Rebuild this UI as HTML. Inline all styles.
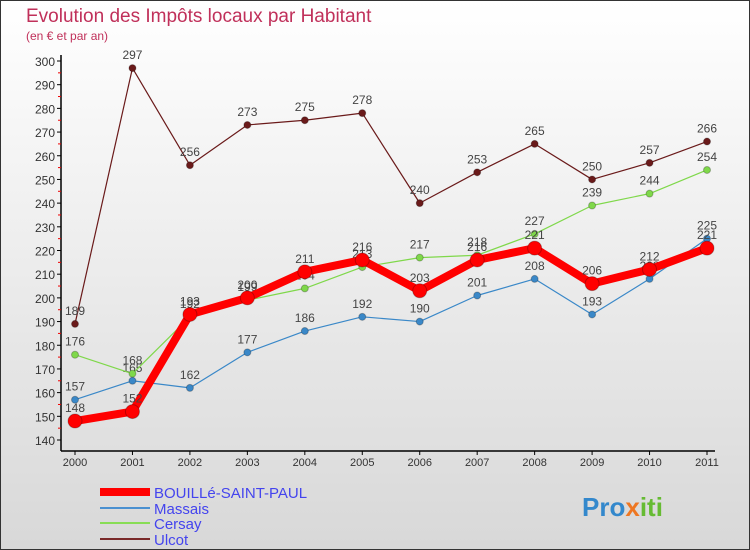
<!DOCTYPE html>
<html><head><meta charset="utf-8"><style>
body{margin:0;}
#c{width:748px;height:548px;border:1px solid #333;background:linear-gradient(#fff,#d8d8d8);position:relative;overflow:hidden;font-family:"Liberation Sans",sans-serif;}
</style></head><body>
<div id="c">
<svg id="s" width="748" height="548" viewBox="1 1 748 548" xmlns="http://www.w3.org/2000/svg" style="position:absolute;left:0;top:0">
<text x="26" y="22" font-size="19" fill="#c0305a">Evolution des Impôts locaux par Habitant</text>
<text x="26" y="40" font-size="12" fill="#c0305a">(en € et par an)</text>
<g id="axes"></g><g id="series"></g>
<g>
<line x1="100" y1="492" x2="150" y2="492" stroke="#f00" stroke-width="8"/><text x="154" y="498" font-size="15" fill="#4444ee">BOUILLé-SAINT-PAUL</text>
<line x1="100" y1="508" x2="150" y2="508" stroke="#4a90d0" stroke-width="2"/><text x="154" y="514" font-size="15" fill="#4444ee">Massais</text>
<line x1="100" y1="523" x2="150" y2="523" stroke="#88dd55" stroke-width="2"/><text x="154" y="529" font-size="15" fill="#4444ee">Cersay</text>
<line x1="100" y1="539" x2="150" y2="539" stroke="#7a2a2a" stroke-width="2"/><text x="154" y="545" font-size="15" fill="#4444ee">Ulcot</text>
</g>
<text x="582" y="516" font-size="26" font-weight="bold" fill="#3388cc">Pro<tspan fill="#ee7722">x</tspan><tspan fill="#66bb33">iti</tspan></text>
</svg>
</div>
<script>
const years=[2000,2001,2002,2003,2004,2005,2006,2007,2008,2009,2010,2011];
const bouille=[148,152,193,200,211,216,203,216,221,206,212,221];
const massais=[157,165,162,177,186,192,190,201,208,193,208,225];
const cersay=[176,168,192,199,204,213,217,218,227,239,244,254];
const ulcot=[189,297,256,273,275,278,240,253,265,250,257,266];
const yTicks=[140,150,160,170,180,190,200,210,220,230,240,250,260,270,280,290,300];
const NS="http://www.w3.org/2000/svg";
const X=i=>75+i*(632/11), Y=v=>440-(v-140)*(379/160);
function mk(t,a,p){const e=document.createElementNS(NS,t);for(const k in a)e.setAttribute(k,a[k]);p.appendChild(e);return e;}
const ax=document.getElementById('axes');
let l=mk('line',{x1:61,y1:55,x2:61,y2:451,stroke:'#000','stroke-width':1.5},ax);


l=mk('line',{x1:61,y1:451,x2:715,y2:451,stroke:'#000','stroke-width':1.5},ax);


yTicks.forEach(v=>{mk('line',{x1:57,y1:Y(v),x2:61,y2:Y(v),stroke:'#000'},ax);
 if(v<300)mk('line',{x1:58,y1:Y(v+5),x2:61,y2:Y(v+5),stroke:'#e00'},ax);
 const t=mk('text',{x:55,y:Y(v)+5,'font-size':12,'text-anchor':'end',fill:'#333'},ax);t.textContent=v;
 
 });
years.forEach((y,i)=>{mk('line',{x1:X(i),y1:451,x2:X(i),y2:455,stroke:'#000'},ax);
 const t=mk('text',{x:X(i),y:466,'font-size':11,'text-anchor':'middle',fill:'#333'},ax);t.textContent=y;
 
 });
const sg=document.getElementById('series');
function draw(d,c,w,r,name){const g=mk('g',{},sg);
 
 
 mk('polyline',{points:d.map((v,i)=>X(i)+','+Y(v)).join(' '),fill:'none',stroke:c,'stroke-width':w,'stroke-linejoin':'round'},g);
 d.forEach((v,i)=>{const p=mk('circle',{cx:X(i),cy:Y(v),r:r,fill:c,stroke:'rgba(0,0,0,0.25)'},g);
  
  
  const t=mk('text',{x:X(i),y:Y(v)-9,'font-size':12,'text-anchor':'middle',fill:'#444'},g);t.textContent=v;});}
draw(ulcot,'#6a1a1a',1.2,3.5,'series-ulcot');
draw(massais,'#3a88c8',1.2,3.5,'series-massais');
draw(cersay,'#7fd84a',1.2,3.5,'series-cersay');
draw(bouille,'#f00',8,7,'series-bouille');
</script>
</body></html>
